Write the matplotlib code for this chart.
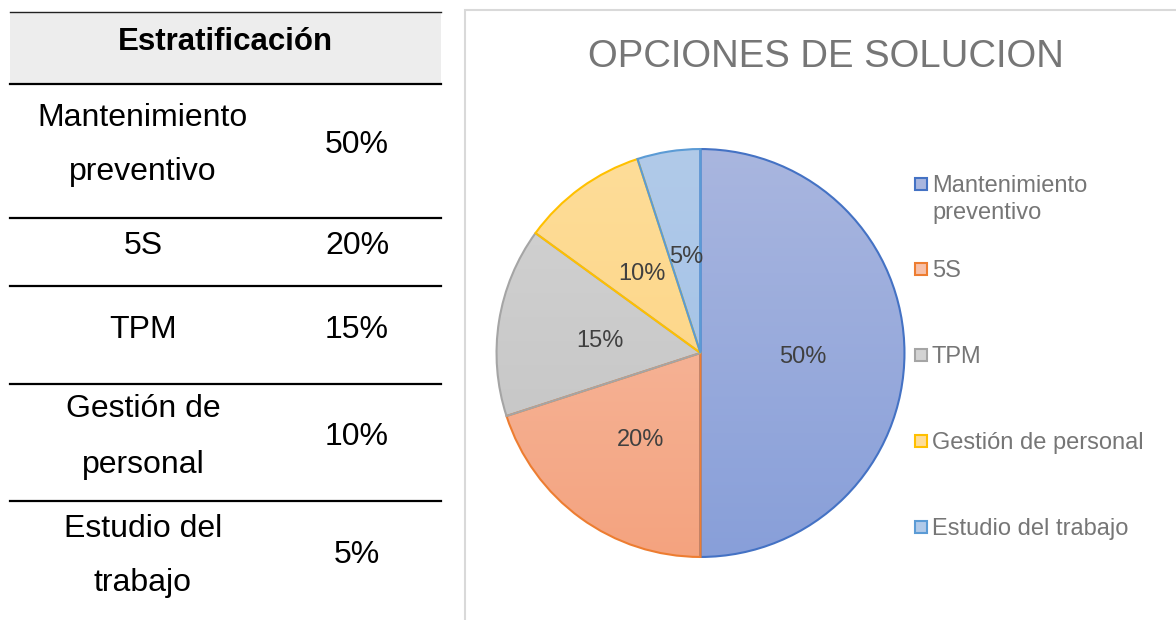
import numpy as np
import matplotlib
matplotlib.use("Agg")
import matplotlib.pyplot as plt
from matplotlib.patches import Rectangle
from matplotlib.lines import Line2D
from matplotlib.colors import LinearSegmentedColormap

# ---------------- data ----------------
table_header = "Estratificación"
table_names = ["Mantenimiento\npreventivo", "5S", "TPM", "Gestión de\npersonal", "Estudio del\ntrabajo"]
table_pcts = ["50%", "20%", "15%", "10%", "5%"]

chart_title = "OPCIONES DE SOLUCION"
categories = ["Mantenimiento\npreventivo", "5S", "TPM", "Gestión de personal", "Estudio del trabajo"]
values = [50, 20, 15, 10, 5]

# ---------------- style ----------------
top_colors = ["#A9B6DF", "#F7C0A9", "#D3D3D3", "#FEDD99", "#B1CAE9"]
bot_colors = ["#889FD9", "#F4A37F", "#C2C2C2", "#FCD27D", "#9DBFE6"]
edge_colors = ["#4472C4", "#ED7D31", "#A5A5A5", "#FFC000", "#5B9BD5"]

W, H = 1176, 620
fig = plt.figure(figsize=(W / 100, H / 100), dpi=100)
fig.patch.set_facecolor("white")
FONT = "Liberation Sans"


def fx(px):
    return px / W


def fy(py):
    return 1 - py / H


# ---------------- table ----------------
x0, x1 = 10, 441
fig.patches.append(Rectangle((fx(x0), fy(84)), fx(x1) - fx(x0), fy(12) - fy(84),
                             transform=fig.transFigure, facecolor="#EDEDED",
                             edgecolor="none", zorder=0))
fig.lines.append(Line2D([fx(x0), fx(x1)], [fy(12), fy(12)], transform=fig.transFigure,
                        color="#222222", lw=1.0))
for yl in [84, 218, 286, 384, 501]:
    fig.lines.append(Line2D([fx(x0), fx(x1)], [fy(yl), fy(yl)], transform=fig.transFigure,
                            color="black", lw=1.6))

fig.text(fx(225), fy(50), table_header, ha="center", va="baseline",
         fontsize=22.5, fontweight="bold", family=FONT, color="black")

name_baselines = [[126, 180], [254], [338], [417, 473], [537, 591]]
pct_baselines = [153, 254, 338, 445, 563]
for name, pct, nb, pb in zip(table_names, table_pcts, name_baselines, pct_baselines):
    for line, b in zip(name.split("\n"), nb):
        fig.text(fx(143), fy(b), line, ha="center", va="baseline",
                 fontsize=23, family=FONT, color="black")
    fig.text(fx(357), fy(pb), pct, ha="center", va="baseline",
             fontsize=23, family=FONT, color="black")

# ---------------- chart box ----------------
fig.patches.append(Rectangle((fx(465), fy(640)), fx(1200) - fx(465), fy(10) - fy(640),
                             transform=fig.transFigure, facecolor="none",
                             edgecolor="#D9D9D9", lw=1.5, zorder=1))

fig.text(fx(826), fy(67), chart_title, ha="center", va="baseline",
         fontsize=27.5, family=FONT, color="#767676")

# ---------------- pie ----------------
cx, cy, r = 700.5, 353, 206
ax = fig.add_axes([fx(cx - r), fy(cy + r), fx(2 * r), (2 * r) / H])
ax.set_axis_off()

wedges, _ = ax.pie(values, startangle=90, counterclock=False, radius=1,
                   wedgeprops=dict(linewidth=1.5))
grad = np.linspace(1, 0, 256).reshape(-1, 1)
for w, tc, bc, ec in zip(wedges, top_colors, bot_colors, edge_colors):
    cmap = LinearSegmentedColormap.from_list("g", [bc, tc])
    im = ax.imshow(grad, extent=(-1, 1, -1, 1), cmap=cmap, aspect="auto",
                   zorder=1, origin="upper", vmin=0, vmax=1)
    im.set_clip_path(w)
    w.set_facecolor("none")
    w.set_edgecolor(ec)
    w.set_zorder(2)
ax.set_xlim(-1.01, 1.01)
ax.set_ylim(-1.01, 1.01)
ax.set_aspect("equal")

# data labels (angles adjusted like the original to avoid overlap)
label_angles = [0, -126, 171, 125, 98]
label_r = [0.50, 0.50, 0.50, 0.50, 0.495]
for v, a, rr in zip(values, label_angles, label_r):
    t = np.deg2rad(a)
    ax.text(rr * np.cos(t), rr * np.sin(t) - 0.02, f"{v}%", ha="center", va="center",
            fontsize=17, family=FONT, color="#404040", zorder=5)

# ---------------- legend ----------------
legend_baselines = [[192, 219], [277], [363], [449], [535]]
for cat, fc, ec, lb in zip(categories, top_colors, edge_colors, legend_baselines):
    ytop = lb[0] - 14
    fig.patches.append(Rectangle((fx(915), fy(ytop + 12)), fx(12), 12 / H,
                                 transform=fig.transFigure, facecolor=fc,
                                 edgecolor=ec, lw=1.5, zorder=3))
    for line, b in zip(cat.split("\n"), lb):
        fig.text(fx(932), fy(b), line, ha="left", va="baseline",
                 fontsize=17, family=FONT, color="#767676")

fig.savefig("out.png", dpi=100, facecolor="white")
